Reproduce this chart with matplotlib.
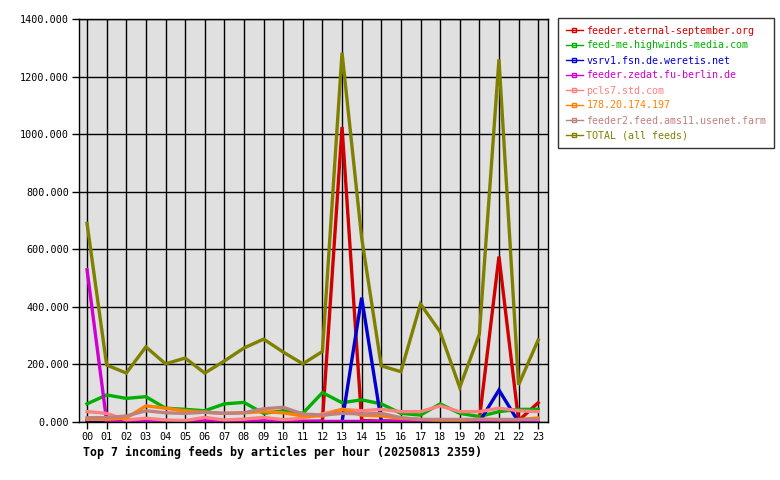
import matplotlib
matplotlib.use("Agg")
import matplotlib.pyplot as plt
from matplotlib.ticker import FormatStrFormatter

hours = ["%02d" % h for h in range(24)]

eternal = [3, 2, 2, 2, 2, 2, 2, 2, 2, 2, 2, 2, 3, 1025, 5, 3, 3, 3, 3, 3, 8, 575, 5, 67]
highwinds = [63, 94, 82, 88, 48, 44, 39, 63, 68, 30, 39, 30, 102, 67, 77, 63, 30, 24, 63, 30, 19, 36, 44, 44]
vsrv1 = [4, 4, 0, 0, 0, 0, 0, 0, 0, 0, 0, 0, 0, 0, 432, 3, 0, 0, 0, 0, 0, 111, 0, 0]
zedat = [529, 3, 2, 4, 2, 2, 4, 2, 2, 4, 2, 2, 2, 2, 2, 2, 2, 2, 2, 2, 2, 2, 2, 5]
pcls7 = [36, 30, 7, 13, 7, 5, 16, 7, 10, 16, 8, 13, 28, 44, 39, 44, 36, 36, 56, 36, 36, 48, 39, 36]
ip178 = [9, 9, 14, 56, 48, 39, 34, 30, 32, 36, 32, 21, 21, 44, 24, 21, 13, 9, 5, 5, 10, 8, 8, 14]
feeder2 = [15, 15, 21, 39, 32, 30, 34, 30, 32, 46, 51, 28, 24, 30, 28, 30, 15, 9, 9, 9, 9, 9, 9, 9]
total = [690, 198, 170, 261, 202, 222, 170, 212, 257, 288, 243, 202, 245, 1283, 640, 195, 175, 410, 313, 120, 305, 1260, 129, 285]

names = ["feeder.eternal-september.org", "feed-me.highwinds-media.com",
         "vsrv1.fsn.de.weretis.net", "feeder.zedat.fu-berlin.de",
         "pcls7.std.com", "178.20.174.197",
         "feeder2.feed.ams11.usenet.farm", "TOTAL (all feeds)"]
series = [eternal, highwinds, vsrv1, zedat, pcls7, ip178, feeder2, total]
colors = ["#d00000", "#00b000", "#0000d0", "#d000d0",
          "#ff8080", "#ff8000", "#c08080", "#808000"]

plt.rcParams["font.family"] = "DejaVu Sans Mono"

fig = plt.figure(figsize=(7.8, 4.8), dpi=100)
ax = fig.add_axes([79 / 780, 1 - 422 / 480, 469 / 780, 403 / 480])
ax.set_facecolor("#e0e0e0")

x = list(range(len(hours)))
for vals, col in zip(series, colors):
    ax.plot(x, vals, color=col, lw=2.4, solid_joinstyle="miter")

ax.set_xlim(-0.41, 23.5)
ax.set_ylim(0, 1400)
ax.set_xticks(x)
ax.set_xticklabels(hours)
ax.set_yticks(range(0, 1401, 200))
ax.yaxis.set_major_formatter(FormatStrFormatter("%.3f"))
ax.grid(True, color="black", lw=1)
ax.set_axisbelow(True)
ax.tick_params(axis="both", labelsize=7.3, length=5, width=1, pad=2, colors="black")
for s in ax.spines.values():
    s.set_linewidth(1)

# legenda w ramce po prawej
handles = [plt.Line2D([], [], color=c, lw=1, marker="s", markersize=2.5,
                      markerfacecolor="none", markeredgecolor=c) for c in colors]
leg = fig.legend(handles, names, loc="upper left",
                 bbox_to_anchor=(558 / 780, 1 - 18 / 480), borderaxespad=0,
                 fontsize=7.2, frameon=True, fancybox=False,
                 handlelength=1.7, handletextpad=0.4, labelspacing=0.5,
                 borderpad=0.75)
leg.get_frame().set_edgecolor("black")
leg.get_frame().set_linewidth(1)
for t, c in zip(leg.get_texts(), colors):
    t.set_color(c)

fig.text(83 / 780, 1 - 452 / 480, "Top 7 incoming feeds by articles per hour (20250813 2359)",
         fontsize=8.4, fontweight="bold", va="center", ha="left")

fig.savefig("out.png", dpi=100)
